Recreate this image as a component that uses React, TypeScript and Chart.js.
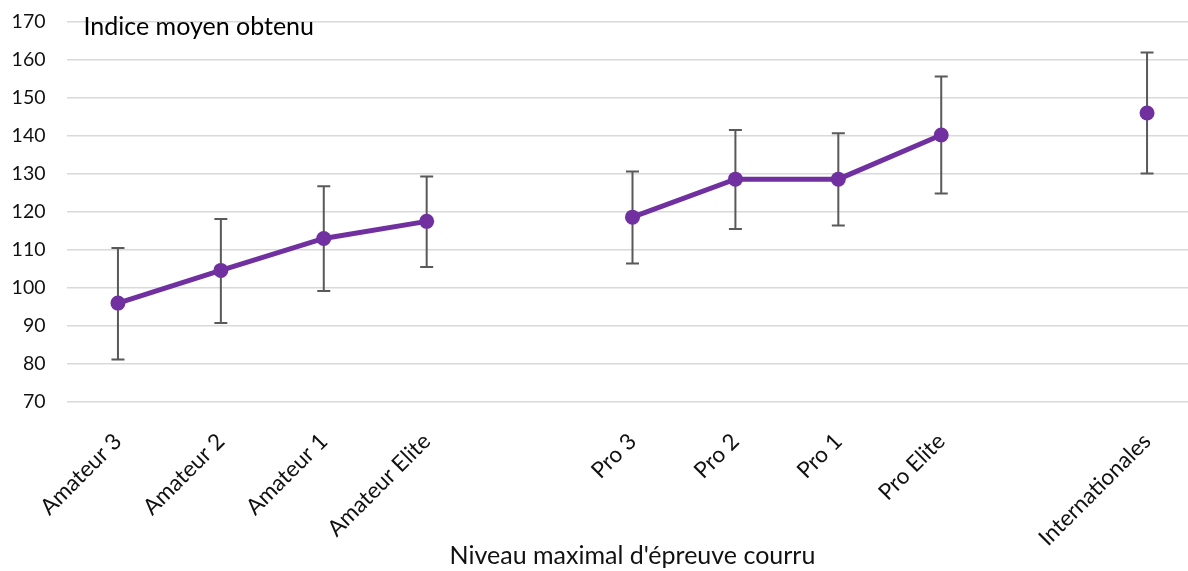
import React, { useEffect, useRef } from "react";
import { Chart, registerables } from "chart.js";

Chart.register(...registerables);

const categories = [
  "Amateur 3",
  "Amateur 2",
  "Amateur 1",
  "Amateur Elite",
  "",
  "Pro 3",
  "Pro 2",
  "Pro 1",
  "Pro Elite",
  "",
  "Internationales",
];
const meanValues = [96, 104.6, 113, 117.5, null, 118.6, 128.6, 128.6, 140.2, null, 146];
const lowValues = [81.2, 90.8, 99.2, 105.5, null, 106.4, 115.5, 116.4, 124.8, null, 130.1];
const highValues = [110.5, 118.1, 126.7, 129.3, null, 130.6, 141.5, 140.7, 155.6, null, 161.9];
const yTicks = { min: 70, max: 170, step: 10 };
const chartTitle = "Indice moyen obtenu";
const xAxisTitle = "Niveau maximal d'épreuve courru";

const FONT = "Lato, 'Open Sans', sans-serif";
const PURPLE = "#7030A0";

const errorBarPlugin = {
  id: "errorBars",
  beforeDatasetsDraw(chart: any) {
    const { ctx, scales } = chart;
    const xs = scales.x;
    const ys = scales.y;
    ctx.save();
    ctx.strokeStyle = "#595959";
    ctx.lineWidth = 2;
    for (let i = 0; i < categories.length; i++) {
      const lo = lowValues[i];
      const hi = highValues[i];
      if (lo == null || hi == null) continue;
      const x = xs.getPixelForValue(i);
      const yLo = ys.getPixelForValue(lo);
      const yHi = ys.getPixelForValue(hi);
      ctx.beginPath();
      ctx.moveTo(x, yLo);
      ctx.lineTo(x, yHi);
      ctx.moveTo(x - 6.5, yLo);
      ctx.lineTo(x + 6.5, yLo);
      ctx.moveTo(x - 6.5, yHi);
      ctx.lineTo(x + 6.5, yHi);
      ctx.stroke();
    }
    ctx.restore();
  },
};

const innerTitlePlugin = {
  id: "innerTitle",
  afterDraw(chart: any) {
    const { ctx, chartArea } = chart;
    ctx.save();
    ctx.font = `25px ${FONT}`;
    ctx.fillStyle = "#000";
    ctx.textAlign = "left";
    ctx.textBaseline = "middle";
    ctx.fillText(chartTitle, chartArea.left + 17, chartArea.top + 5);
    ctx.restore();
  },
};

export default function App() {
  const canvasRef = useRef<HTMLCanvasElement | null>(null);

  useEffect(() => {
    if (!canvasRef.current) return;
    const chart = new Chart(canvasRef.current, {
      type: "line",
      data: {
        labels: categories,
        datasets: [
          {
            data: meanValues as any,
            borderColor: PURPLE,
            backgroundColor: PURPLE,
            borderWidth: 5,
            pointRadius: 7.5,
            pointHoverRadius: 7.5,
            pointBackgroundColor: PURPLE,
            pointBorderColor: PURPLE,
            pointBorderWidth: 0,
            spanGaps: false,
            tension: 0,
          },
        ],
      },
      options: {
        animation: false,
        responsive: false,
        maintainAspectRatio: false,
        layout: { padding: { top: 11, right: 0, bottom: 0, left: 0 } },
        plugins: {
          legend: { display: false },
          tooltip: { enabled: false },
          title: { display: false },
        },
        scales: {
          x: {
            type: "category",
            offset: true,
            grid: { display: false },
            border: { display: false },
            ticks: {
              autoSkip: false,
              maxRotation: 45,
              minRotation: 45,
              color: "#111",
              font: { family: FONT, size: 22.5 },
              padding: 18,
            },
            title: {
              display: true,
              text: xAxisTitle,
              color: "#111",
              font: { family: FONT, size: 25 },
              padding: { top: 0, bottom: 0 },
            },
            afterFit(scale: any) {
              scale.height = 169;
            },
          },
          y: {
            min: yTicks.min,
            max: yTicks.max,
            grid: { color: "#d9d9d9", lineWidth: 1.5, drawTicks: false },
            border: { display: false },
            ticks: {
              stepSize: yTicks.step,
              color: "#111",
              font: { family: FONT, size: 19.5 },
              padding: 21,
            },
            afterFit(scale: any) {
              scale.width = 66.5;
            },
          },
        },
      },
      plugins: [errorBarPlugin, innerTitlePlugin],
    });
    return () => chart.destroy();
  }, []);

  return (
    <div
      style={{
        position: "fixed",
        left: 0,
        top: 0,
        width: 1188,
        height: 571,
        overflow: "hidden",
        background: "#fff",
      }}
    >
      <canvas
        ref={canvasRef}
        width={1206}
        height={582}
        style={{ display: "block", marginTop: -11 }}
      />
    </div>
  );
}
